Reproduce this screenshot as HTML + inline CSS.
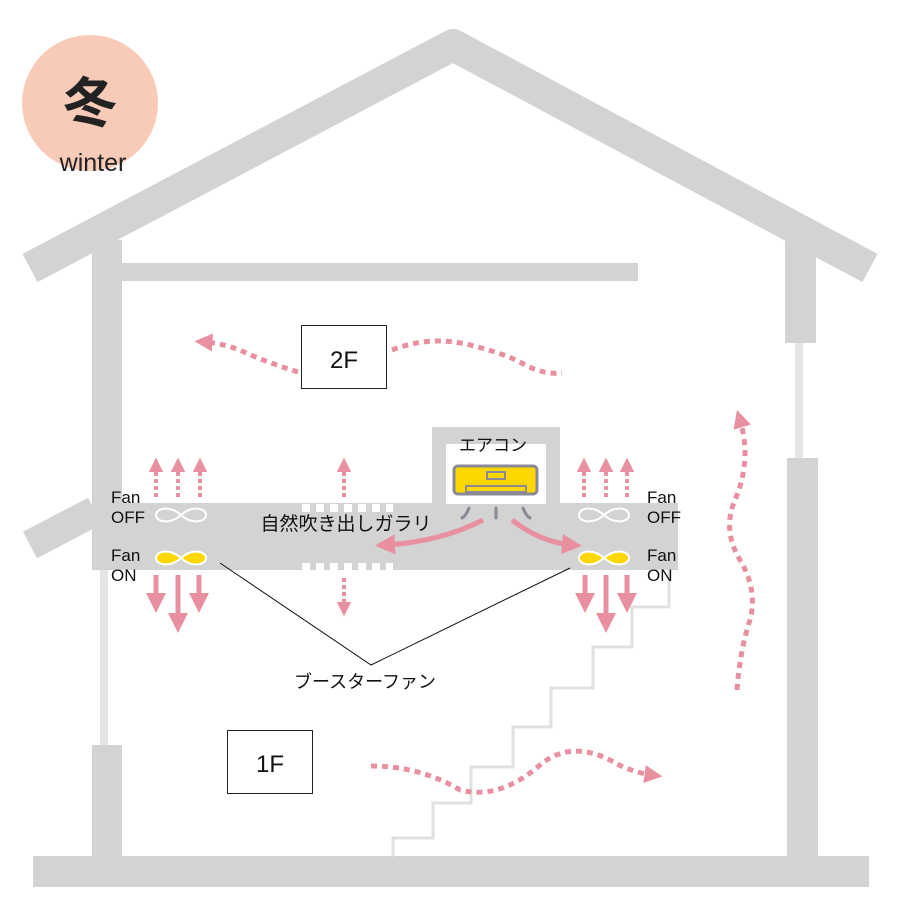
<!DOCTYPE html>
<html><head><meta charset="utf-8"><style>
html,body{margin:0;padding:0;background:#fff;}
svg{display:block;}
text{font-family:"Liberation Sans","Noto Sans CJK JP",sans-serif;}
</style></head><body>
<svg width="900" height="900" viewBox="0 0 900 900" xmlns="http://www.w3.org/2000/svg">
<defs>
<marker id="ah" markerWidth="4" markerHeight="4" refX="2" refY="2" orient="auto" markerUnits="strokeWidth"><path d="M0,0 L4,2 L0,4 Z" fill="#E8909F"/></marker>
<marker id="ah2" markerWidth="3.6" markerHeight="3.6" refX="1.5" refY="1.8" orient="auto" markerUnits="strokeWidth"><path d="M0,0 L3.6,1.8 L0,3.6 Z" fill="#E8909F"/></marker>
</defs>
<circle cx="90" cy="103" r="68" fill="#F8CBB8"/>
<text x="90" y="122" font-size="54" font-weight="bold" text-anchor="middle" fill="#222">冬</text>
<text x="93" y="171" font-size="25" text-anchor="middle" fill="#222">winter</text>

<g fill="#D3D3D3">
<polyline points="30,268 453,45 870,268" fill="none" stroke="#D3D3D3" stroke-width="32" stroke-linejoin="round"/>
<rect x="92" y="240" width="30" height="330"/>
<rect x="100" y="570" width="8" height="176" fill="#E5E5E5"/>
<rect x="92" y="745" width="30" height="112"/>
<rect x="122" y="263" width="516" height="18"/>
<line x1="30" y1="545" x2="95" y2="511" stroke="#D3D3D3" stroke-width="30"/>
<rect x="785" y="240" width="31" height="103"/>
<rect x="795" y="343" width="8" height="116" fill="#E5E5E5"/>
<rect x="787" y="458" width="31" height="400"/>
<rect x="33" y="856" width="836" height="31"/>
<rect x="92" y="503" width="586" height="67"/>
<rect x="432" y="427" width="128" height="80"/>
<rect x="446" y="444" width="100" height="60" fill="#fff"/>
</g>
<polyline points="393,857 393,838 433,838 433,803 471,803 471,767 513,767 513,727 551,727 551,688 593,688 593,647 632,647 632,607 669,607 669,570" fill="none" stroke="#E0E0E0" stroke-width="3"/>

<g fill="#fff">
<rect x="302" y="504" width="8" height="8"/><rect x="316" y="504" width="8" height="8"/><rect x="330" y="504" width="8" height="8"/><rect x="344" y="504" width="8" height="8"/><rect x="358" y="504" width="8" height="8"/><rect x="372" y="504" width="8" height="8"/><rect x="386" y="504" width="7" height="8"/>
<rect x="302" y="563" width="8" height="8"/><rect x="316" y="563" width="8" height="8"/><rect x="330" y="563" width="8" height="8"/><rect x="344" y="563" width="8" height="8"/><rect x="358" y="563" width="8" height="8"/><rect x="372" y="563" width="8" height="8"/><rect x="386" y="563" width="7" height="8"/>
</g>

<text x="493" y="451" font-size="17" text-anchor="middle" fill="#111">エアコン</text>
<rect x="454" y="466" width="83" height="28" rx="4" fill="#FFD700" stroke="#8a8a96" stroke-width="3"/>
<rect x="487" y="472" width="18" height="7" fill="#FFD700" stroke="#8a8a96" stroke-width="2"/>
<rect x="466" y="486" width="60" height="6" fill="#FFD700" stroke="#8a8a96" stroke-width="2"/>
<g stroke="#8a8a96" stroke-width="3" fill="none" stroke-linecap="round">
<path d="M469,508 Q466,516 462,518"/><line x1="496" y1="508" x2="496" y2="518"/><path d="M523,508 Q526,516 530,518"/>
</g>

<g>
<path d="M181,515 C170,505 156,508 156,515 C156,522 170,525 181,515 C192,505 206,508 206,515 C206,522 192,525 181,515 Z" fill="none" stroke="#fff" stroke-width="2"/>
<path d="M181,558 C170,548 156,551 156,558 C156,565 170,568 181,558 C192,548 206,551 206,558 C206,565 192,568 181,558 Z" fill="#FFD700" stroke="#fff" stroke-width="2"/>
<path d="M604,515 C593,505 579,508 579,515 C579,522 593,525 604,515 C615,505 629,508 629,515 C629,522 615,525 604,515 Z" fill="none" stroke="#fff" stroke-width="2"/>
<path d="M604,558 C593,548 579,551 579,558 C579,565 593,568 604,558 C615,548 629,551 629,558 C629,565 615,568 604,558 Z" fill="#FFD700" stroke="#fff" stroke-width="2"/>
</g>
<g font-size="17" fill="#111">
<text x="111" y="503">Fan</text><text x="111" y="523">OFF</text>
<text x="111" y="561">Fan</text><text x="111" y="581">ON</text>
<text x="647" y="503">Fan</text><text x="647" y="523">OFF</text>
<text x="647" y="561">Fan</text><text x="647" y="581">ON</text>
</g>
<text x="346" y="530" font-size="19" text-anchor="middle" fill="#111">自然吹き出しガラリ</text>

<path d="M483,520 Q440,542 385,545" fill="none" stroke="#E8909F" stroke-width="5" marker-end="url(#ah)"/>
<path d="M512,520 Q540,542 572,545" fill="none" stroke="#E8909F" stroke-width="5" marker-end="url(#ah)"/>

<g stroke="#E8909F" stroke-width="5" marker-end="url(#ah)">
<line x1="156" y1="575" x2="156" y2="603"/><line x1="178" y1="575" x2="178" y2="623"/><line x1="199" y1="575" x2="199" y2="603"/>
<line x1="585" y1="575" x2="585" y2="603"/><line x1="606" y1="575" x2="606" y2="623"/><line x1="627" y1="575" x2="627" y2="603"/>
</g>
<g stroke="#E8909F" stroke-width="4" stroke-dasharray="4,3" marker-end="url(#ah2)">
<line x1="156" y1="497" x2="156" y2="466"/><line x1="178" y1="497" x2="178" y2="466"/><line x1="200" y1="497" x2="200" y2="466"/>
<line x1="344" y1="497" x2="344" y2="466"/><line x1="344" y1="578" x2="344" y2="608"/>
<line x1="584" y1="497" x2="584" y2="466"/><line x1="606" y1="497" x2="606" y2="466"/><line x1="627" y1="497" x2="627" y2="466"/>
</g>

<polyline points="220,563 371,665 570,568" fill="none" stroke="#111" stroke-width="1"/>
<text x="365" y="688" font-size="18" text-anchor="middle" fill="#111">ブースターファン</text>

<rect x="301.5" y="325.5" width="85" height="63" fill="#fff" stroke="#222" stroke-width="1"/>
<text x="344" y="368" font-size="24" text-anchor="middle" fill="#111">2F</text>
<rect x="227.5" y="730.5" width="85" height="63" fill="#fff" stroke="#222" stroke-width="1"/>
<text x="270" y="772" font-size="24" text-anchor="middle" fill="#111">1F</text>

<g fill="none" stroke="#E8909F" stroke-width="5" stroke-dasharray="6,5">
<path d="M298,372 Q260,360 240,350 Q220,343 205,342" marker-end="url(#ah2)"/>
<path d="M392,350 Q430,335 470,345 Q510,355 525,365 Q545,375 562,373"/>
<path d="M737,690 Q740,650 750,620 Q758,590 740,560 Q722,530 735,500 Q752,460 740,420" marker-end="url(#ah2)"/>
<path d="M371,766 Q420,766 460,790 Q500,800 540,765 Q570,740 610,760 Q630,772 652,775" marker-end="url(#ah2)"/>
</g>
</svg>
</body></html>
